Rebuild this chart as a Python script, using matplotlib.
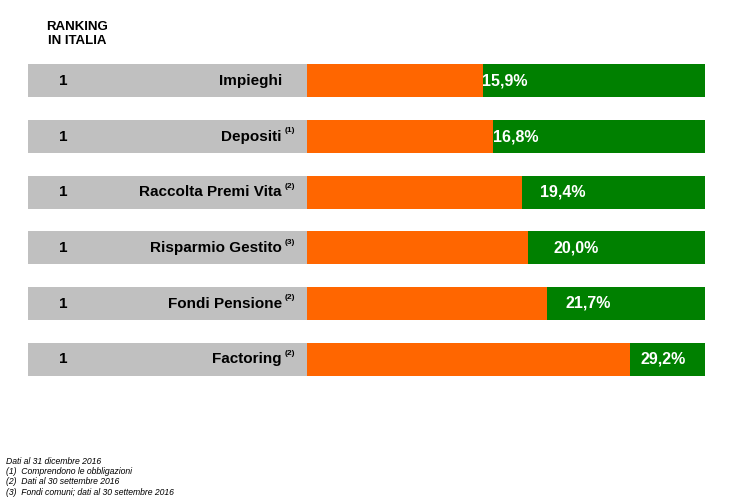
import matplotlib.pyplot as plt
import matplotlib.transforms as mtransforms

plt.rcParams['font.family'] = ['Liberation Sans', 'DejaVu Sans']

# data
categories = ['Impieghi', 'Depositi', 'Raccolta Premi Vita', 'Risparmio Gestito',
              'Fondi Pensione', 'Factoring']
notes = ['', '(1)', '(2)', '(3)', '(2)', '(2)']
ranks = [1, 1, 1, 1, 1, 1]
shares = [15.9, 16.8, 19.4, 20.0, 21.7, 29.2]
labels = ['15,9%', '16,8%', '19,4%', '20,0%', '21,7%', '29,2%']
total = 36.0
footnotes = ['Dati al 31 dicembre 2016',
             '(1)  Comprendono le obbligazioni',
             '(2)  Dati al 30 settembre 2016',
             '(3)  Fondi comuni; dati al 30 settembre 2016']

# label offset from end of orange bar (in % units), as in the original slide
label_pad = [-0.1, 0.0, 1.7, 2.3, 1.7, 1.0]

orange = '#FF6600'
green = '#008000'
grey = '#C0C0C0'

fig = plt.figure(figsize=(7.29, 4.99), dpi=100)
ax = fig.add_axes([28 / 729, 1 - 387 / 499, 677 / 729, 334 / 499])
ax.set_xlim(-25.25, 36.0)
ax.set_ylim(5.5, -0.5)
ax.axis('off')

y = list(range(len(categories)))
h = 0.59
left = ax.get_xlim()[0]
ax.barh(y, [-left] * len(y), left=left, height=h, color=grey, lw=0)
ax.barh(y, [total] * len(y), height=h, color=green, lw=0)
ax.barh(y, shares, height=h, color=orange, lw=0)

trans = mtransforms.blended_transform_factory(ax.transAxes, ax.transData)
for i in y:
    ax.text(0.052, i, str(ranks[i]), transform=trans, ha='center', va='center',
            fontsize=11, fontweight='bold')
    ax.text(0.375, i, categories[i], transform=trans, ha='right', va='center',
            fontsize=11, fontweight='bold')
    if notes[i]:
        ax.annotate(notes[i], xy=(0.375, i), xycoords=trans, xytext=(2, 4),
                    textcoords='offset points', ha='left', va='center',
                    fontsize=6, fontweight='bold')
    ax.text(shares[i] + label_pad[i], i, labels[i], ha='left', va='center',
            fontsize=11.5, fontweight='bold', color='white')

fig.text(77 / 729, 1 - 34 / 499, 'RANKING\nIN ITALIA', ha='center', va='center',
         fontsize=9.5, fontweight='bold', linespacing=1.2)

for k, line in enumerate(footnotes):
    fig.text(6 / 729, 1 - (461 + k * 10.5) / 499, line, ha='left', va='center',
             fontsize=6.2, style='italic')

fig.savefig('out.png', dpi=100)
